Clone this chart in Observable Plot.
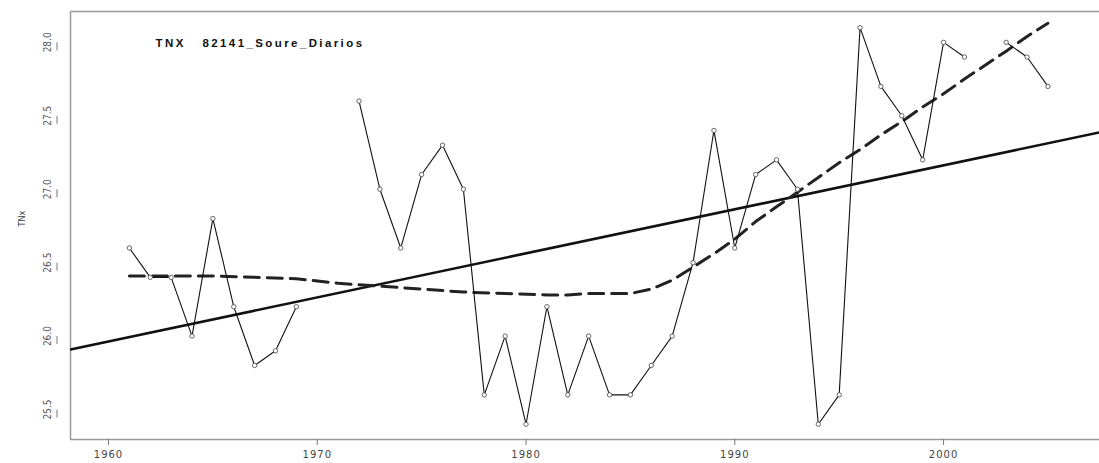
<!DOCTYPE html>
<html>
<head>
<meta charset="utf-8">
<script src="https://cdn.jsdelivr.net/npm/d3@7"></script>
<script src="https://cdn.jsdelivr.net/npm/@observablehq/plot@0.6"></script>
<style>
  html, body { margin: 0; padding: 0; background: #fff; overflow: hidden; }
  svg text { white-space: pre; }
</style>
</head>
<body>
<div id="chart"></div>
<script>
const title = "TNX   82141_Soure_Diarios";
const yLabel = "TNx";

const years = d3.range(1961, 2006);
const tnx = [26.6, 26.4, 26.4, 26.0, 26.8, 26.2, 25.8, 25.9, 26.2, null,
             null, 27.6, 27.0, 26.6, 27.1, 27.3, 27.0, 25.6, 26.0, 25.4,
             26.2, 25.6, 26.0, 25.6, 25.6, 25.8, 26.0, 26.5, 27.4, 26.6,
             27.1, 27.2, 27.0, 25.4, 25.6, 28.1, 27.7, 27.5, 27.2, 28.0,
             27.9, null, 28.0, 27.9, 27.7];

const smoothYears = [1961, 1963, 1965, 1967, 1969, 1971, 1973, 1975, 1977, 1979,
                     1981, 1982, 1983, 1985, 1986, 1987, 1988, 1989, 1990, 1991,
                     1992, 1993, 1994, 1995, 1996, 1997, 1998, 1999, 2000, 2001,
                     2003, 2004, 2005];
const smoothVals = [26.41, 26.41, 26.41, 26.40, 26.39, 26.36, 26.34, 26.32, 26.30, 26.29,
                    26.28, 26.28, 26.29, 26.29, 26.32, 26.38, 26.47, 26.56, 26.66, 26.78,
                    26.88, 26.98, 27.08, 27.18, 27.27, 27.37, 27.46, 27.56, 27.65, 27.75,
                    27.94, 28.04, 28.13];

const trendYears = [1958.18, 2007.47];
const trendVals = [25.909, 27.387];

const xTicks = [1960, 1970, 1980, 1990, 2000];
const yTicks = [25.5, 26.0, 26.5, 27.0, 27.5, 28.0];

const xDomain = [1958.18, 2007.47];
const yDomain = [25.296, 28.21];

const obs = years.map((y, i) => ({year: y, value: tnx[i]}));
const smooth = smoothYears.map((y, i) => ({year: y, value: smoothVals[i]}));
const trend = trendYears.map((y, i) => ({year: y, value: trendVals[i]}));

const chart = Plot.plot({
  width: 1099,
  height: 463,
  marginLeft: 70,
  marginRight: 0,
  marginTop: 11,
  marginBottom: 24,
  style: {fontFamily: "DejaVu Sans Condensed, DejaVu Sans, sans-serif", background: "#fff", maxWidth: "none"},
  x: {domain: xDomain},
  y: {domain: yDomain},
  marks: [
    Plot.ruleY([yDomain[1]], {stroke: "#999", strokeWidth: 1.5}),
    Plot.ruleY([yDomain[0]], {stroke: "#999", strokeWidth: 1.5}),
    Plot.ruleX([xDomain[0]], {stroke: "#999", strokeWidth: 1.5}),
    Plot.axisX({ticks: xTicks, tickFormat: d => String(d), tickSize: 6, tickPadding: 5,
                stroke: "#777", fill: "#444", fontSize: 10, fontFamily: "DejaVu Sans",
                label: null}),
    Plot.axisY({ticks: yTicks, tickFormat: d => d.toFixed(1), tickSize: 8, tickPadding: 2,
                rotate: -90, textAnchor: "middle", stroke: "#777", fill: "#555",
                fontSize: 10, label: null, dx: -13}),
    Plot.text([yLabel], {frameAnchor: "left", dx: -48, dy: 1, rotate: -90,
                fontSize: 9, fill: "#333"}),
    Plot.line(trend, {x: "year", y: "value", stroke: "#111", strokeWidth: 2.6, clip: true}),
    Plot.line(smooth, {x: "year", y: "value", stroke: "#222", strokeWidth: 3,
                strokeDasharray: "15,8"}),
    Plot.line(obs, {x: "year", y: "value", stroke: "#111", strokeWidth: 1.1}),
    Plot.dot(obs.filter(d => d.value != null), {x: "year", y: "value", r: 2.2,
                fill: "#fff", stroke: "#555", strokeWidth: 0.9}),
    Plot.text([title], {frameAnchor: "top-left", dx: 85, dy: 27, textAnchor: "start",
                fontWeight: "bold", fontSize: 11.5, fontFamily: "Liberation Sans, Arial, sans-serif",
                fill: "#111"})
  ]
});
d3.select(chart).selectAll("text").filter(function() { return this.textContent === title; })
  .attr("letter-spacing", "2.4px");
d3.select(chart).selectAll("text").filter(function() { return /^\d{4}$/.test(this.textContent); })
  .attr("letter-spacing", "1px");
document.getElementById("chart").appendChild(chart);
</script>
</body>
</html>
